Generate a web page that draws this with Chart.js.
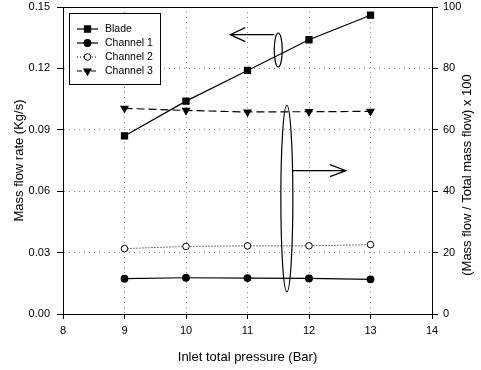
<!DOCTYPE html>
<html>
<head>
<meta charset="utf-8">
<title>Mass flow vs inlet pressure</title>
<script src="https://cdn.jsdelivr.net/npm/chart.js@4.4.0/dist/chart.umd.min.js"></script>
<style>
  html, body { margin: 0; padding: 0; background: #fff; }
  canvas { display: block; }
</style>
</head>
<body>
<canvas id="flowChart" width="481" height="370"></canvas>
<script>
// data
const pressures = [9, 10, 11, 12, 13];                 // Bar
const bladeFlow = [0.087, 0.104, 0.119, 0.134, 0.146]; // Kg/s, left axis
const channel1 = [11.5, 11.8, 11.7, 11.6, 11.3];      // % of total, right axis
const channel2 = [21.3, 22.0, 22.2, 22.2, 22.6];
const channel3 = [67.0, 66.3, 65.8, 65.9, 66.0];
const seriesNames = ['Blade', 'Channel 1', 'Channel 2', 'Channel 3'];

const FONT = "'Liberation Sans', Arial, sans-serif";

function toPoints(ys) {
  return pressures.map((x, i) => ({ x: x, y: ys[i] }));
}

// axis frame, custom legend, right title and the two ellipse callouts
const extrasPlugin = {
  id: 'extras',
  afterDraw(chart) {
    const ctx = chart.ctx;
    const area = chart.chartArea;
    const xs = chart.scales.x, yl = chart.scales.y, yr = chart.scales.y1;

    ctx.save();
    // top frame line
    ctx.strokeStyle = '#000';
    ctx.lineWidth = 1;
    ctx.beginPath();
    ctx.moveTo(area.left, Math.round(area.top) + 0.5);
    ctx.lineTo(area.right, Math.round(area.top) + 0.5);
    ctx.stroke();

    // right axis title, reading bottom to top
    ctx.fillStyle = '#000';
    ctx.font = '13px ' + FONT;
    ctx.textAlign = 'center';
    ctx.textBaseline = 'middle';
    ctx.translate(467, 175);
    ctx.rotate(-Math.PI / 2);
    ctx.fillText('(Mass flow / Total mass flow) x 100', 0, 0);
    ctx.restore();

    // legend box
    ctx.save();
    ctx.fillStyle = '#fff';
    ctx.fillRect(69, 13, 91, 71);
    ctx.strokeStyle = '#000';
    ctx.lineWidth = 1;
    ctx.strokeRect(69.5, 13.5, 91, 71);
    ctx.font = '10.5px ' + FONT;
    ctx.textAlign = 'left';
    ctx.textBaseline = 'middle';
    chart.data.datasets.forEach((ds, i) => {
      const y = 29 + i * 14;
      ctx.strokeStyle = ds.borderColor;
      ctx.lineWidth = ds.borderWidth;
      ctx.setLineDash(i === 2 ? [1, 2] : (i === 3 ? [5, 2] : []));
      ctx.beginPath();
      ctx.moveTo(77, y);
      ctx.lineTo(98, y);
      ctx.stroke();
      ctx.setLineDash([]);
      ctx.fillStyle = ds.pointBackgroundColor;
      ctx.strokeStyle = ds.pointBorderColor;
      Chart.helpers.drawPoint(ctx, {
        pointStyle: ds.pointStyle,
        rotation: ds.pointRotation || 0,
        radius: ds.pointRadius,
        borderWidth: 1
      }, 87.5, y);
      ctx.fillStyle = '#000';
      ctx.fillText(ds.label, 105, y + 0.5);
    });
    ctx.restore();

    // callout 1: ellipse on the Blade line, arrow to the left axis
    ctx.save();
    ctx.strokeStyle = '#000';
    ctx.lineWidth = 1.2;
    const e1x = xs.getPixelForValue(11.5), e1y = yl.getPixelForValue(0.129);
    ctx.beginPath();
    ctx.ellipse(e1x, e1y, 4, 17, 0, 0, Math.PI * 2);
    ctx.stroke();
    const a1y = yl.getPixelForValue(0.1365);
    const a1tip = xs.getPixelForValue(10.72);
    ctx.beginPath();
    ctx.moveTo(e1x - 4, a1y);
    ctx.lineTo(a1tip, a1y);
    ctx.moveTo(a1tip + 15, a1y - 7);
    ctx.lineTo(a1tip, a1y);
    ctx.lineTo(a1tip + 15, a1y + 7);
    ctx.stroke();

    // callout 2: tall ellipse around the channel curves, arrow to the right axis
    const e2x = xs.getPixelForValue(11.64), e2y = yr.getPixelForValue(37.6);
    const e2ry = yr.getPixelForValue(0) - yr.getPixelForValue(30.4);
    ctx.beginPath();
    ctx.ellipse(e2x, e2y, 6, e2ry, 0, 0, Math.PI * 2);
    ctx.stroke();
    const a2y = yr.getPixelForValue(46.7);
    const a2tip = xs.getPixelForValue(12.6);
    ctx.beginPath();
    ctx.moveTo(e2x + 6, a2y);
    ctx.lineTo(a2tip, a2y);
    ctx.moveTo(a2tip - 16, a2y - 6);
    ctx.lineTo(a2tip, a2y);
    ctx.lineTo(a2tip - 16, a2y + 6);
    ctx.stroke();
    ctx.restore();
  }
};

const gridStyle = {
  color: '#8a8a8a',
  lineWidth: 1,
  tickColor: '#000',
  tickLength: 6
};

new Chart(document.getElementById('flowChart').getContext('2d'), {
  type: 'line',
  data: {
    datasets: [
      {
        label: seriesNames[0], data: toPoints(bladeFlow), yAxisID: 'y',
        borderColor: '#000', borderWidth: 1.2,
        pointStyle: 'rect', pointRadius: 4.3,
        pointBackgroundColor: '#000', pointBorderColor: '#000'
      },
      {
        label: seriesNames[1], data: toPoints(channel1), yAxisID: 'y1',
        borderColor: '#000', borderWidth: 1.2,
        pointStyle: 'circle', pointRadius: 3.3,
        pointBackgroundColor: '#000', pointBorderColor: '#000'
      },
      {
        label: seriesNames[2], data: toPoints(channel2), yAxisID: 'y1',
        borderColor: '#000', borderWidth: 1, borderDash: [1, 2],
        pointStyle: 'circle', pointRadius: 3.3,
        pointBackgroundColor: '#fff', pointBorderColor: '#000', pointBorderWidth: 1
      },
      {
        label: seriesNames[3], data: toPoints(channel3), yAxisID: 'y1',
        borderColor: '#000', borderWidth: 1.2, borderDash: [8, 4],
        pointStyle: 'triangle', pointRotation: 180, pointRadius: 4,
        pointBackgroundColor: '#000', pointBorderColor: '#000'
      }
    ]
  },
  options: {
    responsive: false,
    animation: false,
    devicePixelRatio: 1,
    layout: { padding: { top: 7, left: 0, right: 0, bottom: 0 } },
    plugins: {
      legend: { display: false },
      tooltip: { enabled: false }
    },
    scales: {
      x: {
        type: 'linear', min: 8, max: 14,
        ticks: { stepSize: 1, color: '#000', font: { size: 11, family: FONT }, padding: 5, maxRotation: 0 },
        grid: Object.assign({}, gridStyle, { tickLength: 5 }),
        border: { display: true, color: '#000', width: 1, dash: [1, 4] },
        title: { display: true, text: 'Inlet total pressure (Bar)', color: '#000',
                 font: { size: 13, family: FONT }, padding: { top: 0, bottom: 5 } },
        afterFit(scale) { scale.height = 56; }
      },
      y: {
        position: 'left', min: 0, max: 0.15,
        ticks: { stepSize: 0.03, color: '#000', font: { size: 11, family: FONT }, padding: 7,
                 callback: v => v.toFixed(2) },
        grid: gridStyle,
        border: { display: true, color: '#000', width: 1, dash: [1, 4] },
        title: { display: true, text: 'Mass flow rate (Kg/s)', color: '#000',
                 font: { size: 13, family: FONT }, padding: { top: 12, bottom: 0 } },
        afterFit(scale) { scale.width = 63; scale.paddingTop = 0; scale.paddingBottom = 0; }
      },
      y1: {
        position: 'right', min: 0, max: 100,
        ticks: { stepSize: 20, color: '#000', font: { size: 11, family: FONT }, padding: 5 },
        grid: Object.assign({}, gridStyle, { drawOnChartArea: false }),
        border: { display: true, color: '#000', width: 1 },
        afterFit(scale) { scale.width = 49; scale.paddingTop = 0; scale.paddingBottom = 0; }
      }
    }
  },
  plugins: [extrasPlugin]
});
</script>
</body>
</html>
